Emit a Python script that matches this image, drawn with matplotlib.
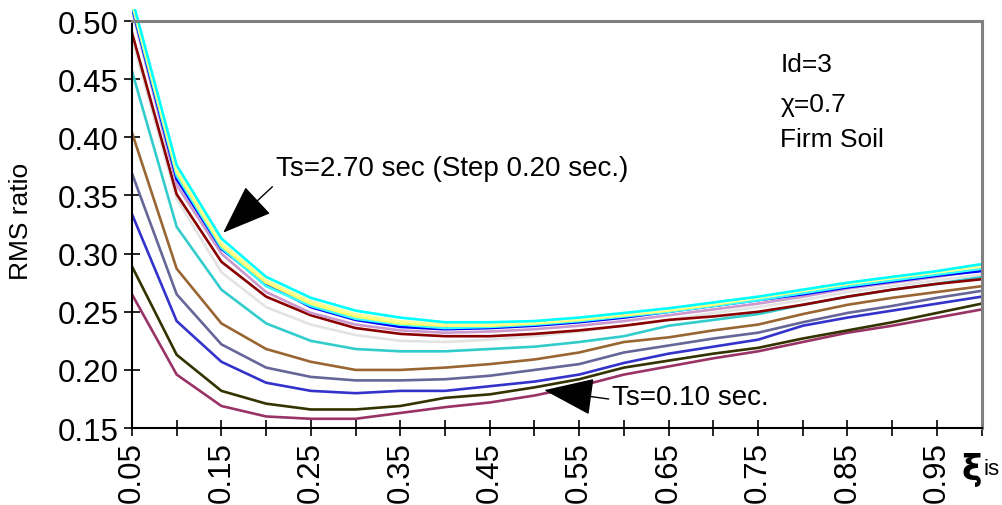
import matplotlib
matplotlib.use("Agg")
import matplotlib.pyplot as plt
from matplotlib.transforms import Bbox, TransformedBbox

plt.rcParams["font.family"] = ["Liberation Sans", "DejaVu Sans"]

# damping ratio of the isolator
xi = [0.05, 0.10, 0.15, 0.20, 0.25, 0.30, 0.35, 0.40, 0.45, 0.50,
      0.55, 0.60, 0.65, 0.70, 0.75, 0.80, 0.85, 0.90, 0.95, 1.00]

# RMS ratio, one series per structural period Ts (0.10 .. 2.70 s, step 0.20 s)
ts_010 = [0.265, 0.196, 0.169, 0.160, 0.158, 0.158, 0.163, 0.168, 0.172, 0.178,
          0.186, 0.196, 0.203, 0.210, 0.216, 0.224, 0.232, 0.238, 0.245, 0.252]
ts_030 = [0.289, 0.213, 0.182, 0.171, 0.166, 0.166, 0.169, 0.176, 0.179, 0.185,
          0.192, 0.202, 0.208, 0.214, 0.219, 0.227, 0.234, 0.241, 0.249, 0.257]
ts_050 = [0.334, 0.242, 0.207, 0.189, 0.182, 0.180, 0.182, 0.182, 0.186, 0.190,
          0.196, 0.206, 0.214, 0.220, 0.226, 0.238, 0.245, 0.251, 0.257, 0.263]
ts_070 = [0.369, 0.265, 0.222, 0.202, 0.194, 0.191, 0.191, 0.192, 0.195, 0.200,
          0.205, 0.215, 0.221, 0.227, 0.232, 0.241, 0.249, 0.255, 0.262, 0.268]
ts_090 = [0.404, 0.287, 0.240, 0.218, 0.207, 0.200, 0.200, 0.202, 0.205, 0.209,
          0.215, 0.224, 0.228, 0.234, 0.239, 0.248, 0.256, 0.262, 0.267, 0.272]
ts_110 = [0.457, 0.323, 0.269, 0.240, 0.225, 0.218, 0.216, 0.216, 0.218, 0.220,
          0.224, 0.229, 0.238, 0.243, 0.248, 0.256, 0.263, 0.269, 0.274, 0.280]
ts_130 = [0.485, 0.347, 0.284, 0.254, 0.239, 0.230, 0.225, 0.224, 0.226, 0.229,
          0.233, 0.238, 0.243, 0.249, 0.254, 0.260, 0.267, 0.272, 0.277, 0.282]
ts_150 = [0.490, 0.351, 0.293, 0.263, 0.247, 0.236, 0.231, 0.229, 0.229, 0.231,
          0.234, 0.238, 0.243, 0.246, 0.250, 0.256, 0.263, 0.269, 0.274, 0.278]
ts_170 = [0.510, 0.359, 0.300, 0.267, 0.249, 0.239, 0.234, 0.232, 0.233, 0.235,
          0.238, 0.242, 0.247, 0.252, 0.257, 0.263, 0.270, 0.275, 0.280, 0.286]
ts_190 = [0.512, 0.364, 0.304, 0.274, 0.254, 0.243, 0.237, 0.235, 0.236, 0.238,
          0.241, 0.245, 0.250, 0.255, 0.260, 0.265, 0.271, 0.276, 0.281, 0.285]
ts_210 = [0.514, 0.367, 0.305, 0.272, 0.255, 0.244, 0.239, 0.236, 0.237, 0.239,
          0.242, 0.246, 0.250, 0.255, 0.260, 0.266, 0.272, 0.277, 0.282, 0.287]
ts_230 = [0.516, 0.370, 0.307, 0.275, 0.257, 0.246, 0.240, 0.238, 0.238, 0.240,
          0.243, 0.247, 0.251, 0.256, 0.262, 0.268, 0.274, 0.279, 0.284, 0.289]
ts_250 = [0.518, 0.372, 0.309, 0.277, 0.259, 0.248, 0.242, 0.239, 0.239, 0.241,
          0.244, 0.248, 0.252, 0.257, 0.262, 0.268, 0.274, 0.279, 0.284, 0.289]
ts_270 = [0.520, 0.376, 0.313, 0.280, 0.262, 0.251, 0.245, 0.241, 0.241, 0.242,
          0.245, 0.249, 0.253, 0.258, 0.263, 0.269, 0.275, 0.280, 0.285, 0.291]

series = [ts_010, ts_030, ts_050, ts_070, ts_090, ts_110, ts_130,
          ts_150, ts_170, ts_190, ts_210, ts_230, ts_250, ts_270]
colors = ["#993366", "#333300", "#3333CC", "#666699", "#996633", "#33CCCC",
          "#E3E3E3", "#8B0000", "#CC99CC", "#0000FF", "#33FFFF", "#FFFF66",
          "#FFFF99", "#00FFFF"]

x_ticks = [0.05 + 0.05 * i for i in range(20)]
x_labels = [f"{v:.2f}" if i % 2 == 0 else "" for i, v in enumerate(x_ticks)]
y_ticks = [0.15, 0.20, 0.25, 0.30, 0.35, 0.40, 0.45, 0.50]

fig = plt.figure(figsize=(10.02, 5.06), dpi=100)
ax = fig.add_axes([0.1317, 0.152, 0.848, 0.8045])

# lines may run a little past the top of the frame, as in the spreadsheet
clip = TransformedBbox(Bbox([[0, 0], [1, 1.03]]), ax.transAxes)
for ys, c in zip(series, colors):
    ln, = ax.plot(xi, ys, color=c, lw=1.9, solid_joinstyle="miter")
    ln.set_clip_box(clip)

ax.set_xlim(0.05, 1.0)
ax.set_ylim(0.15, 0.50)
ax.set_xticks(x_ticks)
ax.set_xticklabels(x_labels, rotation=90, fontsize=22.5)
ax.set_yticks(y_ticks)
ax.set_yticklabels([f"{v:.2f}" for v in y_ticks], fontsize=22.5)
ax.tick_params(direction="inout", length=11, width=1.2, color="black", pad=4)

for side in ("left", "bottom"):
    ax.spines[side].set_color("black")
    ax.spines[side].set_linewidth(1.5)
for side in ("top", "right"):
    ax.spines[side].set_color("#808080")
    ax.spines[side].set_linewidth(2.2)

ax.set_ylabel("RMS ratio", fontsize=19)
ax.yaxis.set_label_coords(-0.117, 0.51)

# axis name at the end of the x axis
ax.text(1.0, -0.10, "ξ", transform=ax.transAxes, fontsize=25,
        fontweight="bold", ha="right", va="center", family="DejaVu Sans")
ax.text(1.002, -0.10, "is", transform=ax.transAxes, fontsize=16,
        ha="left", va="center")

# case parameters
ax.text(0.763, 0.895, "Id=3", transform=ax.transAxes, fontsize=19, va="center")
ax.text(0.763, 0.797, "χ=0.7", transform=ax.transAxes, fontsize=19, va="center")
ax.text(0.763, 0.71, "Firm Soil", transform=ax.transAxes, fontsize=19, va="center")

arrow = dict(arrowstyle="-|>,head_length=1.6,head_width=0.6", color="black",
             lw=1.0, mutation_scale=20, shrinkA=0, shrinkB=0)
ax.annotate("", xy=(0.152, 0.318), xytext=(0.207, 0.3575), arrowprops=arrow)
ax.text(0.211, 0.374, "Ts=2.70 sec (Step 0.20 sec.)", fontsize=20, va="center")
ax.annotate("", xy=(0.511, 0.1826), xytext=(0.583, 0.175), arrowprops=arrow)
ax.text(0.587, 0.1765, "Ts=0.10 sec.", fontsize=20, va="center")

fig.savefig("out.png", dpi=100)
